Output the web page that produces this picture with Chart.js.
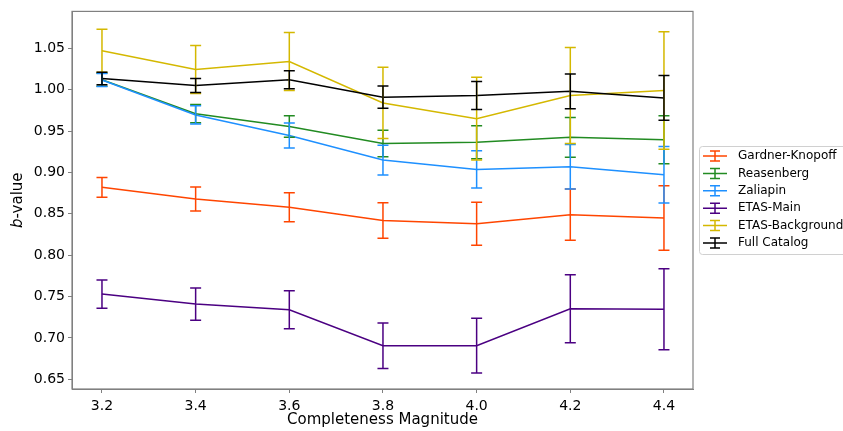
<!DOCTYPE html>
<html>
<head>
    <title>b-value vs Completeness Magnitude</title>
    <script src="https://cdn.jsdelivr.net/npm/chart.js"></script>
    <style>
        body { margin: 0; background: #fff; }
        .chart-container { width: 843px; height: 431px; }
    </style>
</head>
<body>
    <div class="chart-container">
        <canvas id="bChart"></canvas>
    </div>

    <script>
        // Data
        const magnitudes = [3.2, 3.4, 3.6, 3.8, 4.0, 4.2, 4.4];
        const yTicks = [0.65, 0.70, 0.75, 0.80, 0.85, 0.90, 0.95, 1.00, 1.05];

        const gardnerKnopoff = [0.882, 0.868, 0.858, 0.842, 0.838, 0.849, 0.845];
        const gardnerKnopoffErr = [0.012, 0.0145, 0.0175, 0.0215, 0.026, 0.031, 0.039];

        const reasenberg = [1.012, 0.971, 0.9555, 0.935, 0.9365, 0.9425, 0.9394];
        const reasenbergErr = [0.008, 0.011, 0.013, 0.016, 0.02, 0.024, 0.029];

        const zaliapin = [1.0117, 0.9695, 0.9446, 0.915, 0.9036, 0.9069, 0.8972];
        const zaliapinErr = [0.008, 0.011, 0.015, 0.018, 0.0225, 0.027, 0.034];

        const etasMain = [0.753, 0.741, 0.734, 0.6907, 0.6907, 0.7353, 0.7346];
        const etasMainErr = [0.017, 0.0195, 0.023, 0.0275, 0.033, 0.041, 0.049];

        const etasBackground = [1.047, 1.0245, 1.034, 0.984, 0.965, 0.993, 0.999];
        const etasBackgroundErr = [0.026, 0.029, 0.035, 0.043, 0.05, 0.058, 0.071];

        const fullCatalog = [1.0136, 1.005, 1.012, 0.991, 0.993, 0.998, 0.990];
        const fullCatalogErr = [0.0075, 0.0085, 0.011, 0.0135, 0.017, 0.021, 0.027];

        const series = [
            { label: 'Gardner-Knopoff', values: gardnerKnopoff, err: gardnerKnopoffErr, color: '#ff4500' },
            { label: 'Reasenberg', values: reasenberg, err: reasenbergErr, color: '#228b22' },
            { label: 'Zaliapin', values: zaliapin, err: zaliapinErr, color: '#1e90ff' },
            { label: 'ETAS-Main', values: etasMain, err: etasMainErr, color: '#4b0082' },
            { label: 'ETAS-Background', values: etasBackground, err: etasBackgroundErr, color: '#d4b800' },
            { label: 'Full Catalog', values: fullCatalog, err: fullCatalogErr, color: '#000000' }
        ];

        const FONT = 'DejaVu Sans';
        const FRAME = '#808080';

        // error bars + frame + legend + y title
        const extras = {
            id: 'extras',
            afterDatasetsDraw(chart) {
                const c = chart.ctx;
                const xs = chart.scales.x, ys = chart.scales.y;
                c.save();
                series.forEach((s, i) => {
                    c.strokeStyle = s.color;
                    c.lineWidth = 1.5;
                    s.values.forEach((v, j) => {
                        const px = xs.getPixelForValue(magnitudes[j]);
                        const top = ys.getPixelForValue(v + s.err[j]);
                        const bot = ys.getPixelForValue(v - s.err[j]);
                        c.beginPath();
                        c.moveTo(px, top); c.lineTo(px, bot);
                        c.moveTo(px - 5.5, top); c.lineTo(px + 5.5, top);
                        c.moveTo(px - 5.5, bot); c.lineTo(px + 5.5, bot);
                        c.stroke();
                    });
                });
                c.restore();
            },
            afterDraw(chart) {
                const c = chart.ctx;
                const a = chart.chartArea;
                c.save();
                // frame
                c.strokeStyle = FRAME;
                c.lineWidth = 1.2;
                c.strokeRect(a.left, a.top, a.right - a.left, a.bottom - a.top);

                // y title with italic b
                c.translate(18, (a.top + a.bottom) / 2);
                c.rotate(-Math.PI / 2);
                c.fillStyle = '#000';
                c.textBaseline = 'middle';
                c.font = 'italic 15px "' + FONT + '"';
                const bw = c.measureText('b').width;
                c.font = '15px "' + FONT + '"';
                const rw = c.measureText('-value').width;
                const x0 = -(bw + rw) / 2;
                c.font = 'italic 15px "' + FONT + '"';
                c.textAlign = 'left';
                c.fillText('b', x0, 0);
                c.font = '15px "' + FONT + '"';
                c.fillText('-value', x0 + bw, 0);
                c.restore();

                // legend
                c.save();
                const lx = a.right + 6, ly = 146, lh = 108, lw = 160;
                c.fillStyle = 'rgba(255,255,255,0.8)';
                c.strokeStyle = '#d0d0d0';
                c.lineWidth = 1;
                c.beginPath();
                c.roundRect(lx + 0.5, ly + 0.5, lw, lh, 3);
                c.fill();
                c.stroke();
                c.font = '12px "' + FONT + '"';
                c.textBaseline = 'middle';
                c.textAlign = 'left';
                series.forEach((s, i) => {
                    const cy = ly + 10 + i * 17.4;
                    c.strokeStyle = s.color;
                    c.lineWidth = 1.5;
                    c.beginPath();
                    c.moveTo(lx + 4, cy); c.lineTo(lx + 28, cy);
                    c.moveTo(lx + 16, cy - 5); c.lineTo(lx + 16, cy + 5);
                    c.moveTo(lx + 11, cy - 5); c.lineTo(lx + 21, cy - 5);
                    c.moveTo(lx + 11, cy + 5); c.lineTo(lx + 21, cy + 5);
                    c.stroke();
                    c.fillStyle = '#000';
                    c.fillText(s.label, lx + 39, cy);
                });
                c.restore();
            }
        };

        const ctx = document.getElementById('bChart').getContext('2d');
        const chart = new Chart(ctx, {
            type: 'line',
            data: {
                datasets: series.map((s, i) => ({
                    label: s.label,
                    data: magnitudes.map((m, j) => ({ x: m, y: s.values[j] })),
                    borderColor: s.color,
                    backgroundColor: s.color,
                    borderWidth: 1.5,
                    pointRadius: 0,
                    tension: 0,
                    fill: false,
                    order: series.length - i
                }))
            },
            options: {
                responsive: true,
                maintainAspectRatio: false,
                animation: false,
                layout: { padding: { left: 0, right: 150, top: 10, bottom: 0 } },
                plugins: {
                    legend: { display: false },
                    tooltip: { enabled: false }
                },
                scales: {
                    x: {
                        type: 'linear',
                        min: 3.136,
                        max: 4.462,
                        afterBuildTicks: scale => { scale.ticks = magnitudes.map(v => ({ value: v })); },
                        afterFit: scale => { scale.height = 42; },
                        grid: { drawOnChartArea: false, color: FRAME, tickLength: 4 },
                        border: { color: FRAME },
                        ticks: {
                            color: '#000',
                            padding: 5,
                            font: { family: FONT, size: 14 },
                            callback: v => v.toFixed(1)
                        },
                        title: {
                            display: true,
                            text: 'Completeness Magnitude',
                            color: '#000',
                            padding: { top: 0, bottom: 2 },
                            font: { family: FONT, size: 15 }
                        }
                    },
                    y: {
                        min: 0.6383,
                        max: 1.0946,
                        afterBuildTicks: scale => { scale.ticks = yTicks.map(v => ({ value: v })); },
                        afterFit: scale => { scale.width = 72; },
                        grid: { drawOnChartArea: false, color: FRAME, tickLength: 4 },
                        border: { color: FRAME },
                        ticks: {
                            color: '#000',
                            padding: 3,
                            font: { family: FONT, size: 14 },
                            callback: v => v.toFixed(2)
                        }
                    }
                }
            },
            plugins: [extras]
        });
    </script>
</body>
</html>
